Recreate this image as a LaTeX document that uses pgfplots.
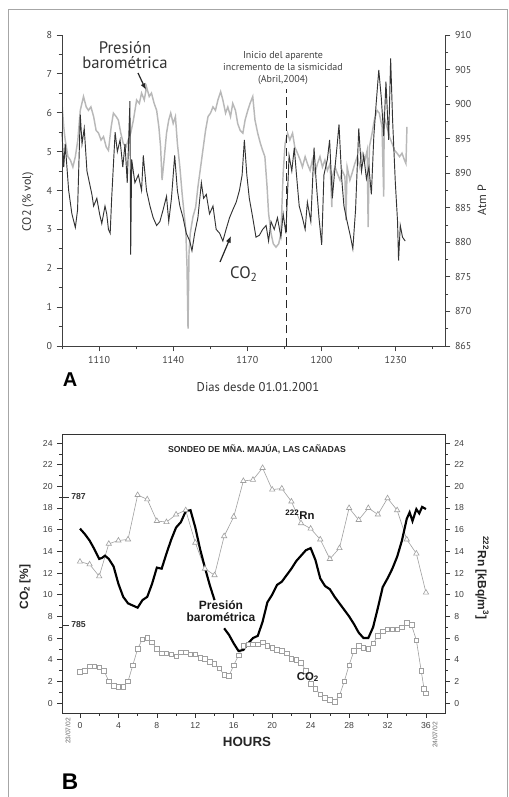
\documentclass[border=0pt]{standalone}
\usepackage{fontspec}
\setmainfont{Liberation Sans}
\newfontfamily\pts{PT Sans}
\usepackage{pgfplots}
\pgfplotsset{compat=1.18}
\usetikzlibrary{arrows.meta}

\definecolor{presgray}{gray}{0.72}
\definecolor{co2dark}{gray}{0.2}
\definecolor{txtA}{gray}{0.2}

\begin{document}
\begin{tikzpicture}
% frame and fixed page size (1 px = 0.75pt)
\begin{scope}[x=0.75pt,y=-0.75pt]
\useasboundingbox (0,0) rectangle (509,797);
\draw[gray!70, line width=0.6pt] (8,797) -- (8,9) -- (507.5,9) -- (507.5,797);
\end{scope}

% ---------- panel A: pressure (right axis) ----------
\begin{axis}[
  at={(46.5pt,-259.5pt)}, anchor=south west,
  scale only axis, width=287.25pt, height=233.25pt,
  xmin=1095, xmax=1250, ymin=865, ymax=910,
  axis x line=none, axis y line*=right,
  axis line style={-, black!75, line width=0.6pt},
  ytick={865,870,...,910}, minor y tick num=1,
  tick align=outside, major tick length=4pt, minor tick length=2.5pt,
  tick style={black!75, line width=0.6pt},
  /pgf/number format/assume math mode=true,
  yticklabel style={font=\pts\fontsize{7.5}{8}\selectfont, text=black!75},
]
\addplot[presgray, line width=1.1pt] coordinates {
(1095.0,900.1)(1095.7,896.7)(1096.3,894.8)(1097.4,892.4)(1098.4,891.9)(1099.4,890.9)
(1100.4,892.4)(1101.4,894.8)(1102.4,899.1)(1103.7,901.1)(1104.8,899.6)(1105.7,899.1)
(1106.7,899.6)(1107.8,898.2)(1108.8,896.2)(1109.8,895.8)(1110.8,894.8)(1111.8,895.3)
(1112.9,893.8)(1113.8,893.3)(1114.9,896.7)(1115.8,898.7)(1116.9,898.2)(1117.8,897.7)
(1118.8,895.8)(1119.8,894.3)(1120.9,893.8)(1121.8,894.8)(1122.8,895.8)(1123.9,897.7)
(1125.2,900.6)(1126.3,900.1)(1127.2,901.6)(1128.3,900.6)(1129.2,902.5)(1130.3,901.1)
(1131.2,901.6)(1132.3,900.1)(1133.3,899.1)(1134.2,896.7)(1134.9,893.8)(1135.5,889.0)
(1136.3,891.9)(1137.3,895.8)(1138.2,897.7)(1139.0,898.7)(1140.0,897.2)(1140.9,898.2)
(1141.7,894.3)(1142.7,890.9)(1143.6,887.1)(1144.4,884.2)(1145.1,881.8)(1145.6,876.4)
(1146.0,867.5)(1146.4,878.4)(1146.9,881.3)(1148.0,883.7)(1149.1,885.1)(1150.0,888.0)
(1151.1,890.9)(1152.0,893.3)(1153.1,896.2)(1154.1,898.2)(1155.1,898.7)(1156.1,899.6)
(1157.1,899.1)(1158.1,900.6)(1159.2,901.8)(1160.1,900.6)(1161.2,898.7)(1162.1,899.6)
(1163.2,898.2)(1164.1,900.1)(1165.2,899.1)(1166.1,897.2)(1167.1,896.2)(1168.2,895.8)
(1169.1,897.7)(1170.2,899.1)(1171.1,900.1)(1172.2,901.1)(1173.1,897.7)(1174.2,895.8)
(1175.3,894.3)(1176.2,893.3)(1177.1,892.4)(1178.0,888.0)(1178.6,884.2)(1179.6,881.3)
(1180.5,879.8)(1181.6,879.3)(1182.7,879.8)(1183.6,881.3)(1184.5,890.0)(1185.3,894.3)
(1186.3,895.8)(1187.2,894.8)(1188.3,895.8)(1189.2,893.8)(1190.3,892.9)(1191.4,891.9)
(1192.3,890.9)(1193.4,892.4)(1194.3,891.4)(1195.4,890.4)(1196.3,891.9)(1197.4,890.0)
(1198.4,891.4)(1199.4,892.4)(1200.4,890.9)(1201.4,891.9)(1202.4,890.4)(1203.5,891.4)
(1204.2,885.1)(1204.4,889.5)(1205.5,890.9)(1206.4,890.0)(1207.5,889.0)(1208.4,890.4)
(1209.5,889.5)(1209.9,883.2)(1210.4,890.9)(1211.5,889.0)(1212.4,890.0)(1213.5,891.4)
(1214.5,892.4)(1215.5,890.9)(1216.5,892.9)(1217.6,891.9)(1218.5,893.3)(1218.9,882.2)
(1219.4,893.8)(1220.5,895.8)(1221.4,897.7)(1222.5,899.1)(1223.4,898.7)(1224.5,896.7)
(1225.2,886.6)(1225.4,898.2)(1226.5,896.7)(1227.5,895.3)(1228.6,894.3)(1229.6,893.3)
(1230.6,892.9)(1231.6,892.4)(1232.6,892.9)(1233.6,891.9)(1234.2,891.4)(1234.6,896.7)
};
\end{axis}

% ---------- panel A: CO2 (left axis) ----------
\begin{axis}[
  at={(46.5pt,-259.5pt)}, anchor=south west,
  scale only axis, width=287.25pt, height=233.25pt,
  xmin=1095, xmax=1250, ymin=0, ymax=8,
  axis x line*=bottom, axis y line*=left,
  axis line style={-, black!75, line width=0.6pt},
  xtick={1110,1140,1170,1200,1230},
  minor xtick={1095,1125,1155,1185,1215,1245},
  ytick={0,1,...,8}, minor y tick num=1,
  tick align=outside, major tick length=4pt, minor tick length=2.5pt,
  tick style={black!75, line width=0.6pt},
  /pgf/number format/assume math mode=true,
  xticklabel style={/pgf/number format/1000 sep=, font=\pts\fontsize{7.5}{8}\selectfont, text=black!75},
  yticklabel style={font=\pts\fontsize{7.5}{8}\selectfont, text=black!75},
  clip=false,
]
\addplot[co2dark, line width=0.7pt] coordinates {
(1095.0,5.5)(1095.7,4.6)(1096.3,5.2)(1097.7,4.0)(1099.0,3.4)(1100.4,3.05)(1101.3,3.5)
(1102.4,5.95)(1103.1,5.2)(1104.0,5.6)(1105.1,4.5)(1106.1,4.2)(1107.1,3.9)(1107.8,3.6)
(1109.1,3.8)(1110.2,3.4)(1111.1,3.15)(1112.4,3.6)(1113.1,3.4)(1113.8,3.0)(1114.5,2.9)
(1115.1,3.8)(1116.5,5.5)(1117.4,5.0)(1118.5,5.3)(1119.6,4.6)(1120.5,5.2)(1121.4,4.2)
(1122.5,6.3)(1122.8,2.35)(1123.2,4.8)(1124.5,4.2)(1125.9,4.4)(1127.2,4.0)(1127.9,4.9)
(1129.2,4.0)(1130.6,3.6)(1131.9,3.3)(1133.3,3.1)(1134.6,3.2)(1135.9,3.5)(1137.3,3.85)
(1138.2,3.2)(1139.3,3.8)(1140.6,4.9)(1141.7,4.0)(1142.7,3.6)(1144.0,3.3)(1145.3,2.9)
(1146.7,2.7)(1147.6,2.45)(1148.7,2.9)(1150.0,3.3)(1151.4,4.2)(1152.3,3.8)(1153.4,3.9)
(1154.7,3.4)(1156.1,3.6)(1157.4,3.0)(1158.8,2.9)(1160.1,2.7)(1161.4,3.0)(1162.8,3.3)
(1164.1,3.5)(1165.5,3.7)(1166.8,4.0)(1167.9,4.4)(1168.8,5.3)(1169.8,4.4)(1170.8,3.8)
(1172.2,3.3)(1173.5,2.8)(1174.9,2.85)(1176.2,3.0)(1177.6,3.1)(1178.6,2.7)(1179.6,3.2)
(1180.9,3.0)(1182.2,3.3)(1183.6,2.8)(1184.5,3.4)(1185.6,2.9)(1186.9,4.9)(1188.0,4.5)
(1189.0,5.1)(1189.9,4.4)(1191.0,3.6)(1192.3,3.3)(1193.4,3.0)(1194.3,3.7)(1195.7,3.2)
(1197.0,5.1)(1197.9,4.2)(1199.0,3.3)(1200.1,2.6)(1201.0,4.4)(1202.4,4.8)(1203.3,5.3)
(1204.4,3.8)(1205.5,4.6)(1206.4,5.2)(1207.1,5.7)(1208.2,4.3)(1209.1,3.6)(1210.4,3.2)
(1211.8,2.8)(1212.7,2.5)(1213.8,3.5)(1215.1,5.6)(1216.2,4.5)(1217.1,4.9)(1218.2,4.3)
(1219.2,4.6)(1220.2,3.9)(1221.2,5.4)(1222.1,6.2)(1223.2,7.1)(1224.2,6.4)(1225.2,5.4)
(1226.1,6.8)(1227.2,5.3)(1228.0,7.4)(1228.8,5.8)(1229.9,4.2)(1230.8,3.2)(1231.2,2.2)
(1231.9,3.1)(1232.8,2.8)(1233.9,2.7)
};
\draw[black!85, line width=0.9pt, dash pattern=on 6pt off 3.5pt]
  (axis cs:1185.7,0) -- (axis cs:1185.7,6.6);
\end{axis}

% ---------- panel B: left axis with all series ----------
\begin{axis}[
  at={(46.5pt,-534.75pt)}, anchor=south west,
  scale only axis, width=287.25pt, height=209.25pt,
  xmin=-1.87, xmax=37.98, ymin=-0.92, ymax=24.83,
  xtick={0,4,...,36}, minor x tick num=1,
  ytick={0,2,...,24}, minor y tick num=1,
  xtick pos=bottom, ytick pos=left,
  tick align=outside, major tick length=3.5pt, minor tick length=2pt,
  axis line style={black!80, line width=0.6pt},
  tick style={black!80, line width=0.5pt},
  /pgf/number format/assume math mode=true,
  ticklabel style={font=\fontsize{6.5}{7}\selectfont, text=black!75},
  clip=false,
]
% 222Rn
\addplot[gray!75, line width=0.45pt, mark=triangle*, mark size=2.3pt,
  mark options={fill=white, draw=gray!75, line width=0.45pt}] coordinates {
(0,13.05)(1,12.8)(2,11.7)(3,14.7)(4,15.0)(5,15.1)(6,19.2)(7,18.8)(8,16.8)(9,16.7)
(10,17.4)(11,17.8)(12,14.8)(13,12.4)(14,11.8)(15,15.4)(16,17.2)(17,20.5)(18,20.6)
(19,21.7)(20,19.7)(21,19.8)(22,18.6)(23,16.6)(24,16.1)(25,15.1)(26,13.3)(27,14.3)
(28,18.0)(29,16.9)(30,18.0)(31,17.4)(32,18.9)(33,17.8)(34,15.1)(35,13.8)(36,10.2)
};
% CO2
\addplot[gray!75, line width=0.45pt, mark=square*, mark size=1.7pt,
  mark options={fill=white, draw=gray!75, line width=0.45pt}] coordinates {
(0,2.9)(0.5,3.0)(1,3.4)(1.5,3.4)(2,3.3)(2.5,3.0)(3,2.0)(3.5,1.6)(4,1.5)(4.5,1.5)
(5,2.0)(5.5,3.5)(6,5.0)(6.5,5.9)(7,6.0)(7.5,5.6)(8,5.0)(8.5,4.6)(9,4.6)(9.5,4.5)
(10,4.3)(10.5,4.7)(11,4.7)(11.5,4.5)(12,4.5)(12.5,4.2)(13,4.1)(13.5,3.8)(14,3.6)
(14.5,3.2)(15,2.6)(15.5,2.5)(16,3.5)(16.5,4.4)(17,5.3)(17.5,5.4)(18,5.4)(18.5,5.4)
(19,5.6)(19.5,5.3)(20,5.1)(20.5,4.9)(21,4.8)(21.5,4.6)(22,4.1)(22.5,4.0)(23,3.7)
(23.5,3.0)(24,1.8)(24.5,1.3)(25,0.8)(25.5,0.5)(26,0.3)(26.5,0.1)(27,0.7)(27.5,2.0)
(28,3.5)(28.5,4.8)(29,5.3)(29.5,5.1)(30,5.0)(30.5,5.5)(31,6.2)(31.5,6.6)(32,6.8)
(32.5,6.8)(33,6.8)(33.5,7.0)(34,7.4)(34.5,7.2)(35,5.8)(35.5,3.0)(35.8,1.3)(36,0.9)
};
% barometric pressure
\addplot[black, line width=1.6pt] coordinates {
(0,16.1)(0.5,15.6)(1,15.0)(1.5,14.2)(2,13.3)(2.3,13.4)(2.6,13.6)(3,13.3)(3.5,12.6)
(4,11.0)(4.5,9.8)(5,9.2)(5.5,9.0)(6,8.8)(6.5,9.5)(7,9.8)(7.5,11.0)(8,12.5)(8.5,12.4)
(9,13.8)(9.5,15.1)(10,16.2)(10.5,16.7)(11,17.7)(11.5,17.8)(12,16.2)(12.5,14.2)
(13,12.5)(13.5,10.9)(14,9.5)
};
\addplot[black, line width=1.6pt] coordinates {
(15,6.9)(15.5,6.3)(16,5.5)(16.5,4.8)(17,4.9)(17.5,5.5)(18,6.0)(18.5,6.2)(19,7.5)
(19.5,9.3)(20,10.0)(20.5,10.9)(21,11.2)(21.5,11.8)(22,12.4)(22.5,13.1)(23,13.6)
(23.5,14.1)(24,14.3)(24.5,13.2)(25,11.5)(25.5,10.8)(26,10.5)(26.5,9.8)(27,9.2)
(27.5,8.6)(28,8.0)(28.5,7.3)(29,6.5)(29.5,6.0)(30,6.0)(30.5,7.0)(31,8.8)(31.5,10.7)
(32,11.5)(32.5,12.4)(33,13.5)(33.5,15.0)(34,17.0)(34.3,17.6)(34.6,16.8)(35,17.9)
(35.3,17.5)(35.6,18.1)(36,17.9)
};
\end{axis}

% ---------- panel B: right axis ticks ----------
\begin{axis}[
  at={(46.5pt,-534.75pt)}, anchor=south west,
  scale only axis, width=287.25pt, height=209.25pt,
  xmin=-1.87, xmax=37.98, ymin=-0.92, ymax=24.83,
  hide x axis,
  ytick={0,2,...,24}, minor y tick num=1, ytick pos=right,
  tick align=outside, major tick length=3.5pt, minor tick length=2pt,
  axis line style={black!80, line width=0.6pt},
  tick style={black!80, line width=0.5pt},
  /pgf/number format/assume math mode=true,
  yticklabel style={font=\fontsize{6.5}{7}\selectfont, text=black!75},
]
\end{axis}

% ---------- text and annotations (px coordinates) ----------
\begin{scope}[x=0.75pt,y=-0.75pt]
% panel A
\node[font=\pts\fontsize{12.5}{13}\selectfont, text=txtA, align=center, inner sep=0]
  at (125,55) {Presión\\[-2pt]barométrica};
\draw[-{Latex[length=5pt,width=4pt]}, line width=0.9pt, black!85] (138,73) -- (146,90);
\node[font=\pts\fontsize{12.5}{13}\selectfont, text=txtA, inner sep=0]
  at (244,274) {CO\textsubscript{2}};
\draw[-{Latex[length=5pt,width=4pt]}, line width=0.9pt, black!85] (220,262) -- (231,236);
\node[font=\pts\fontsize{7.5}{9}\selectfont, text=black!75, align=center, inner sep=0]
  at (283,68) {Inicio del aparente\\incremento de la sismicidad\\(Abril,2004)};
\node[font=\pts\fontsize{9}{10}\selectfont, text=black!80, rotate=90, inner sep=0]
  at (28,202) {CO2 (\% vol)};
\node[font=\pts\fontsize{9}{10}\selectfont, text=black!80, rotate=90, inner sep=0]
  at (482,200) {Atm P};
\node[font=\pts\fontsize{9.5}{10}\selectfont, text=black!80, inner sep=0]
  at (258,387) {Dias desde 01.01.2001};
\node[font=\bfseries\fontsize{15}{16}\selectfont, inner sep=0] at (70,380) {A};
% panel B
\node[font=\bfseries\fontsize{6.5}{7}\selectfont, text=black!85, inner sep=0]
  at (257,449) {SONDEO DE MÑA. MAJÚA, LAS CAÑADAS};
\node[font=\bfseries\fontsize{8.5}{9}\selectfont, text=black!90, inner sep=0]
  at (300,515) {\textsuperscript{222}Rn};
\node[font=\bfseries\fontsize{9}{10}\selectfont, text=black!90, align=center, inner sep=0]
  at (221,611) {Presión\\[-1pt]barométrica};
\node[font=\bfseries\fontsize{8.5}{9}\selectfont, text=black!90, inner sep=0]
  at (308,677) {CO\textsubscript{2}};
\draw[black!80, line width=0.5pt] (63,497) -- (69,497);
\node[font=\bfseries\fontsize{6.5}{7}\selectfont, text=black!80, anchor=west, inner sep=0]
  at (71,497) {787};
\draw[black!80, line width=0.5pt] (63,625) -- (69,625);
\node[font=\bfseries\fontsize{6.5}{7}\selectfont, text=black!80, anchor=west, inner sep=0]
  at (71,625) {785};
\node[font=\bfseries\fontsize{9}{10}\selectfont, text=black!85, rotate=90, inner sep=0]
  at (25,587) {CO\textsubscript{2} [\%]};
\node[font=\bfseries\fontsize{9}{10}\selectfont, text=black!85, rotate=-90, inner sep=0]
  at (482,578) {\textsuperscript{222}Rn [kBq/m\textsuperscript{3}]};
\node[font=\fontsize{5}{6}\selectfont, text=black!60, rotate=90, inner sep=0]
  at (68,731) {23/07/02};
\node[font=\fontsize{5}{6}\selectfont, text=black!60, rotate=90, inner sep=0]
  at (435,735) {24/07/02};
\node[font=\bfseries\fontsize{10}{11}\selectfont, text=black!85, inner sep=0]
  at (247,742) {HOURS};
\node[font=\bfseries\fontsize{17}{18}\selectfont, inner sep=0] at (70,782) {B};
\end{scope}
\end{tikzpicture}
\end{document}
